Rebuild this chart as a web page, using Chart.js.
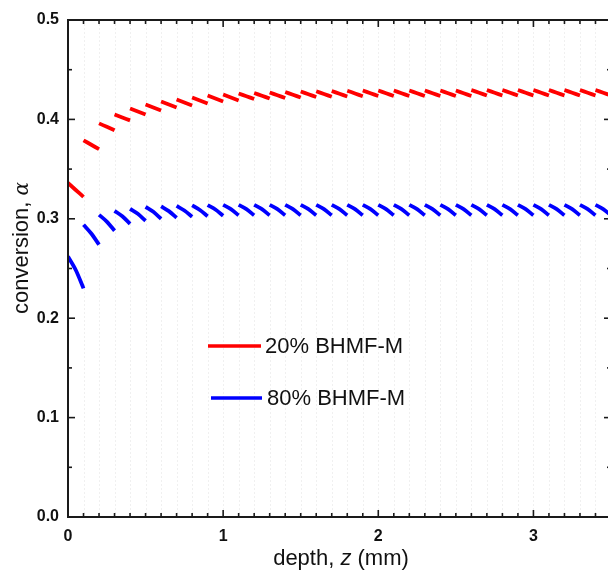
<!DOCTYPE html>
<html><head><meta charset="utf-8">
<script src="https://cdn.jsdelivr.net/npm/chart.js@4/dist/chart.umd.min.js"></script>
<style>
html,body{margin:0;padding:0;background:#fff;overflow:hidden;width:608px;height:571px}
#wrap{position:absolute;left:0;top:0;width:614px;height:571px}
</style>
</head><body><div id="wrap"><canvas id="c" width="614" height="571"></canvas></div>
<script>
// ---- data ----
const layerTop = [0.0,0.1,0.2,0.3,0.4,0.5,0.6,0.7,0.8,0.9,1.0,1.1,1.2,1.3,1.4,1.5,1.6,1.7,1.8,1.9,2.0,2.1,2.2,2.3,2.4,2.5,2.6,2.7,2.8,2.9,3.0,3.1,3.2,3.3,3.4];
const layerThickness = 0.1;
const alpha20Top    = [0.336,0.379,0.396,0.405,0.411,0.415,0.418,0.420,0.422,0.424,0.425,0.426,0.4265,0.427,0.4275,0.428,0.4283,0.4286,0.4289,0.429,0.429,0.429,0.429,0.429,0.429,0.429,0.4295,0.4295,0.4295,0.4295,0.4295,0.4295,0.4295,0.4295,0.4295];
const alpha20Mid    = [0.329,0.3745,0.3925,0.402,0.408,0.412,0.415,0.417,0.419,0.421,0.422,0.4233,0.4238,0.4243,0.4248,0.4253,0.4256,0.4258,0.4261,0.4263,0.4263,0.4263,0.4263,0.4263,0.4263,0.4263,0.4268,0.4268,0.4268,0.4268,0.4268,0.4268,0.4268,0.4268,0.4268];
const alpha20Bottom = [0.322,0.370,0.389,0.399,0.405,0.409,0.412,0.414,0.416,0.418,0.419,0.4205,0.421,0.4215,0.422,0.4225,0.4228,0.423,0.4233,0.4235,0.4235,0.4235,0.4235,0.4235,0.4235,0.4235,0.424,0.424,0.424,0.424,0.424,0.424,0.424,0.424,0.424];
const alpha80Top    = [0.262,0.294,0.304,0.308,0.310,0.312,0.3125,0.313,0.3135,0.3138,0.314,0.314,0.314,0.314,0.314,0.314,0.314,0.314,0.314,0.314,0.314,0.314,0.314,0.314,0.314,0.314,0.314,0.314,0.314,0.314,0.314,0.314,0.314,0.314,0.314];
const alpha80Mid    = [0.2485,0.2852,0.2972,0.3025,0.305,0.307,0.3077,0.3083,0.3089,0.3093,0.3097,0.3097,0.3097,0.3097,0.3097,0.3097,0.3097,0.3097,0.3097,0.3097,0.3097,0.3097,0.3097,0.3097,0.3097,0.3097,0.3097,0.3097,0.3097,0.3097,0.3097,0.3097,0.3097,0.3097,0.3097];
const alpha80Bottom = [0.230,0.274,0.288,0.295,0.298,0.300,0.301,0.302,0.3025,0.303,0.3035,0.3035,0.3035,0.3035,0.3035,0.3035,0.3035,0.3035,0.3035,0.3035,0.3035,0.3035,0.3035,0.3035,0.3035,0.3035,0.3035,0.3035,0.3035,0.3035,0.3035,0.3035,0.3035,0.3035,0.3035];
const seriesNames = ['20% BHMF-M','80% BHMF-M'];
const seriesColors = ['#ff0000','#0000ff'];
const xTickValues = [0,1,2,3];
const yTickValues = [0.0,0.1,0.2,0.3,0.4,0.5];
const xTitle = ['depth, ','z',' (mm)'];
const yTitle = ['conversion, ','α'];

function buildPoints(top, mid, bot){
  const pts = [];
  layerTop.forEach((z,i)=>{
    pts.push({x:z,y:top[i]});
    pts.push({x:z+layerThickness/2,y:mid[i]});
    pts.push({x:z+layerThickness,y:bot[i]});
    pts.push({x:z+layerThickness,y:null});
  });
  return pts;
}

const AX = '#1a1a1a';
const framePlugin = {
  id:'frame',
  beforeDatasetsDraw(chart){
    const {ctx, chartArea:a, scales:{x}} = chart;
    ctx.save();
    ctx.strokeStyle = '#f0f0f0';
    ctx.lineWidth = 1;
    ctx.setLineDash([2,2]);
    layerTop.forEach(z=>{
      if (z===0) return;
      const px = Math.round(x.getPixelForValue(z))+0.5;
      ctx.beginPath(); ctx.moveTo(px,a.top); ctx.lineTo(px,a.bottom); ctx.stroke();
    });
    ctx.restore();
  },
  afterDatasetsDraw(chart){
    const {ctx, chartArea:a, scales:{x,y}} = chart;
    ctx.save();
    ctx.strokeStyle = AX;
    ctx.lineWidth = 1.6;
    // x ticks (inward, bottom and top)
    layerTop.concat([3.5]).forEach(z=>{
      const px = x.getPixelForValue(z);
      const major = xTickValues.includes(Math.round(z*10)/10);
      const len = major ? 7 : 4;
      ctx.beginPath(); ctx.moveTo(px,a.bottom); ctx.lineTo(px,a.bottom-len); ctx.stroke();
      ctx.beginPath(); ctx.moveTo(px,a.top); ctx.lineTo(px,a.top+len); ctx.stroke();
    });
    // y ticks
    yTickValues.forEach((v,i)=>{
      const py = y.getPixelForValue(v);
      ctx.beginPath(); ctx.moveTo(a.left,py); ctx.lineTo(a.left+7,py); ctx.stroke();
      ctx.beginPath(); ctx.moveTo(a.right,py); ctx.lineTo(a.right-7,py); ctx.stroke();
      if (i < yTickValues.length-1){
        const pm = y.getPixelForValue((v+yTickValues[i+1])/2);
        ctx.beginPath(); ctx.moveTo(a.left,pm); ctx.lineTo(a.left+4,pm); ctx.stroke();
        ctx.beginPath(); ctx.moveTo(a.right,pm); ctx.lineTo(a.right-4,pm); ctx.stroke();
      }
    });
    // frame
    ctx.lineWidth = 2;
    ctx.strokeRect(a.left, a.top, a.right-a.left, a.bottom-a.top);

    // legend
    const legendPos = [{x1:208,x2:261,y:346,tx:265},{x1:211,x2:262,y:398,tx:267}];
    chart.data.datasets.forEach((ds,i)=>{
      const p = legendPos[i];
      ctx.strokeStyle = ds.borderColor; ctx.lineWidth = 3.5;
      ctx.beginPath(); ctx.moveTo(p.x1,p.y); ctx.lineTo(p.x2,p.y); ctx.stroke();
      ctx.fillStyle = '#111';
      ctx.font = '22px "Liberation Sans", Arial, sans-serif';
      ctx.textBaseline = 'middle'; ctx.textAlign = 'left';
      ctx.fillText(ds.label, p.tx, p.y+1);
    });

    // x title
    ctx.fillStyle = '#111';
    ctx.textBaseline = 'alphabetic';
    const fN = '22px "Liberation Sans", Arial, sans-serif';
    const fI = 'italic 22px "Liberation Sans", Arial, sans-serif';
    ctx.font = fN; const w0 = ctx.measureText(xTitle[0]).width; const w2 = ctx.measureText(xTitle[2]).width;
    ctx.font = fI; const w1 = ctx.measureText(xTitle[1]).width;
    let sx = 341 - (w0+w1+w2)/2; const by = 565;
    ctx.font = fN; ctx.fillText(xTitle[0], sx, by); sx += w0;
    ctx.font = fI; ctx.fillText(xTitle[1], sx, by); sx += w1;
    ctx.font = fN; ctx.fillText(xTitle[2], sx, by);

    // y title (rotated)
    ctx.save();
    ctx.translate(28, 248);
    ctx.rotate(-Math.PI/2);
    const gN = '22px "Liberation Sans", Arial, sans-serif';
    const gA = 'italic 20px "DejaVu Serif", serif';
    ctx.font = gN; const v0 = ctx.measureText(yTitle[0]).width;
    ctx.font = gA; const v1 = ctx.measureText(yTitle[1]).width;
    let sy = -(v0+v1)/2;
    ctx.font = gN; ctx.fillText(yTitle[0], sy, 0); sy += v0;
    ctx.font = gA; ctx.fillText(yTitle[1], sy, 0);
    ctx.restore();
    ctx.restore();
  }
};

new Chart(document.getElementById('c'), {
  type:'line',
  data:{
    datasets:[
      {label:seriesNames[0], data:buildPoints(alpha20Top,alpha20Mid,alpha20Bottom), borderColor:seriesColors[0], backgroundColor:seriesColors[0], borderWidth:3.8, pointRadius:0, tension:0.3, spanGaps:false, borderCapStyle:'butt'},
      {label:seriesNames[1], data:buildPoints(alpha80Top,alpha80Mid,alpha80Bottom), borderColor:seriesColors[1], backgroundColor:seriesColors[1], borderWidth:3.8, pointRadius:0, tension:0.3, spanGaps:false, borderCapStyle:'butt'}
    ]
  },
  options:{
    responsive:false, animation:false, devicePixelRatio:1,
    layout:{padding:{top:20,right:3,left:0,bottom:0}},
    plugins:{legend:{display:false}, tooltip:{enabled:false}},
    scales:{
      x:{type:'linear', min:0, max:3.5,
        afterBuildTicks:(s)=>{ s.ticks = xTickValues.map(v=>({value:v})); },
        afterFit:(s)=>{ s.height = 54; },
        grid:{display:false, drawTicks:false}, border:{display:false},
        ticks:{padding:10, color:'#111', font:{family:'"Liberation Sans", Arial, sans-serif', size:16, weight:'bold'}, maxRotation:0, callback:(v)=>String(v)}
      },
      y:{type:'linear', min:0, max:0.5,
        afterBuildTicks:(s)=>{ s.ticks = yTickValues.map(v=>({value:v})); },
        afterFit:(s)=>{ s.width = 68; },
        grid:{display:false, drawTicks:false}, border:{display:false},
        ticks:{padding:9, color:'#111', font:{family:'"Liberation Sans", Arial, sans-serif', size:16, weight:'bold'}, callback:(v)=>Number(v).toFixed(1)}
      }
    }
  },
  plugins:[framePlugin]
});
</script>
</body></html>
